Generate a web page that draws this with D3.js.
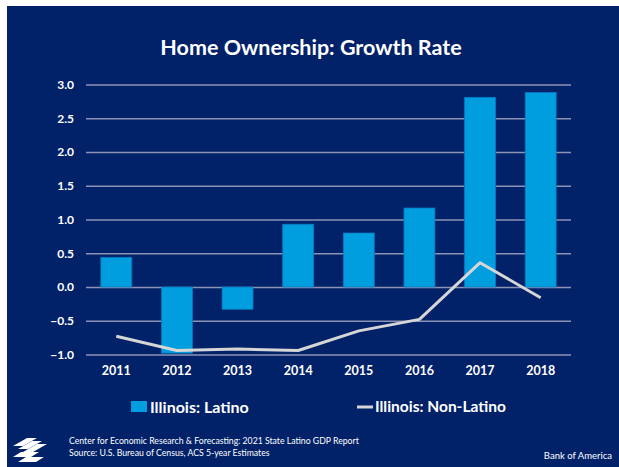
<!DOCTYPE html>
<html>
<head>
<meta charset="utf-8">
<script src="https://cdn.jsdelivr.net/npm/d3@7/dist/d3.min.js"></script>
<style>
  html, body { margin: 0; padding: 0; background: #ffffff; }
  svg { display: block; }
  text { font-family: Lato, "Open Sans", sans-serif; }
</style>
</head>
<body>
<script>
// ---- data ----
const years = ["2011", "2012", "2013", "2014", "2015", "2016", "2017", "2018"];
const latino = [0.44, -0.98, -0.33, 0.93, 0.80, 1.17, 2.81, 2.88];
const nonLatino = [-0.73, -0.94, -0.92, -0.94, -0.65, -0.48, 0.36, -0.16];
const yTicks = [-1.0, -0.5, 0.0, 0.5, 1.0, 1.5, 2.0, 2.5, 3.0];
const title = "Home Ownership: Growth Rate";
const seriesNames = ["Illinois: Latino", "Illinois: Non-Latino"];
const footerLines = ["Center for Economic Research & Forecasting: 2021 State Latino GDP Report",
                     "Source: U.S. Bureau of Census, ACS 5-year Estimates"];
const brand = "Bank of America";

const W = 619, H = 467;
const navy = "#012169", barColor = "#009edf", lineColor = "#d6d6d6", gridColor = "#8c93b4";

const svg = d3.select("body").append("svg").attr("width", W).attr("height", H);
svg.append("rect").attr("x", 7).attr("y", 6).attr("width", W - 7).attr("height", H - 6).attr("fill", navy);

// title
svg.append("text").attr("x", 311).attr("y", 55).attr("text-anchor", "middle")
  .attr("fill", "#fff").attr("font-size", 21.5).attr("font-weight", 700).text(title);

const x = d3.scaleBand().domain(years).range([86, 571]).paddingInner(0.49).paddingOuter(0.245);
const y = d3.scaleLinear().domain([-1, 3]).range([354.5, 84.5]);

// gridlines + y labels
const yAxis = d3.axisLeft(y).tickValues(yTicks).tickSize(-(571 - 86)).tickFormat(d3.format(".1f"));
const gy = svg.append("g").attr("transform", "translate(86,0)").call(yAxis);
gy.select(".domain").remove();
gy.selectAll(".tick line").attr("stroke", gridColor).attr("stroke-width", 1.3);
gy.selectAll(".tick text").attr("x", -12).attr("fill", "#fff").attr("font-size", 12)
  .attr("font-weight", 700).attr("font-family", "Lato, sans-serif");

// bars
svg.append("g").selectAll("rect").data(latino).join("rect")
  .attr("x", (d, i) => x(years[i]))
  .attr("width", x.bandwidth())
  .attr("y", d => y(Math.max(0, d)))
  .attr("height", d => Math.abs(y(d) - y(0)))
  .attr("fill", barColor).attr("stroke", "#0a78c0").attr("stroke-width", 0.8);

// line
const line = d3.line().x((d, i) => x(years[i]) + x.bandwidth() / 2).y(d => y(d));
svg.append("path").datum(nonLatino).attr("d", line).attr("fill", "none")
  .attr("stroke", lineColor).attr("stroke-width", 3).attr("stroke-linejoin", "round");

// x axis labels
const xAxis = d3.axisBottom(x).tickSize(0).tickPadding(0);
const gx = svg.append("g").attr("transform", "translate(0,366)").call(xAxis);
gx.select(".domain").remove();
gx.selectAll(".tick text").attr("fill", "#fff").attr("font-size", 12.5)
  .attr("font-weight", 700).attr("font-family", "Lato, sans-serif").attr("dy", "0.71em");

// legend
const lg = svg.append("g");
lg.append("rect").attr("x", 131).attr("y", 401).attr("width", 16).attr("height", 11).attr("fill", barColor);
lg.append("text").attr("x", 150).attr("y", 407).attr("dy", "0.35em").attr("fill", "#fff")
  .attr("font-size", 16).attr("font-weight", 700).text(seriesNames[0]);
lg.append("line").attr("x1", 357).attr("x2", 373).attr("y1", 407).attr("y2", 407)
  .attr("stroke", lineColor).attr("stroke-width", 3);
lg.append("text").attr("x", 375).attr("y", 407).attr("dy", "0.35em").attr("fill", "#fff")
  .attr("font-size", 15.5).attr("font-weight", 700).text(seriesNames[1]);

// footer
footerLines.forEach((t, i) => {
  svg.append("text").attr("x", 69).attr("y", 444 + i * 12).attr("fill", "#fff")
    .attr("font-size", 8.7).text(t);
});
svg.append("text").attr("x", 612).attr("y", 459).attr("text-anchor", "end").attr("fill", "#fff")
  .attr("font-size", 9.5).text(brand);

// logo (stylised flag)
const logo = svg.append("g").attr("transform", "translate(13,438)").attr("fill", "#fff");
const stripes = [
  "M14,0 L24,0 L10,8 L0,8 Z",
  "M19,3 L29,3 L15,11 L5,11 Z",
  "M24,6 L34,6 L20,14 L10,14 Z",
  "M8,14 L26,14 L18,19 L0,19 Z",
  "M13,19 L31,19 L23,24 L5,24 Z"
];
logo.selectAll("path").data(stripes).join("path").attr("d", d => d);
</script>
</body>
</html>
